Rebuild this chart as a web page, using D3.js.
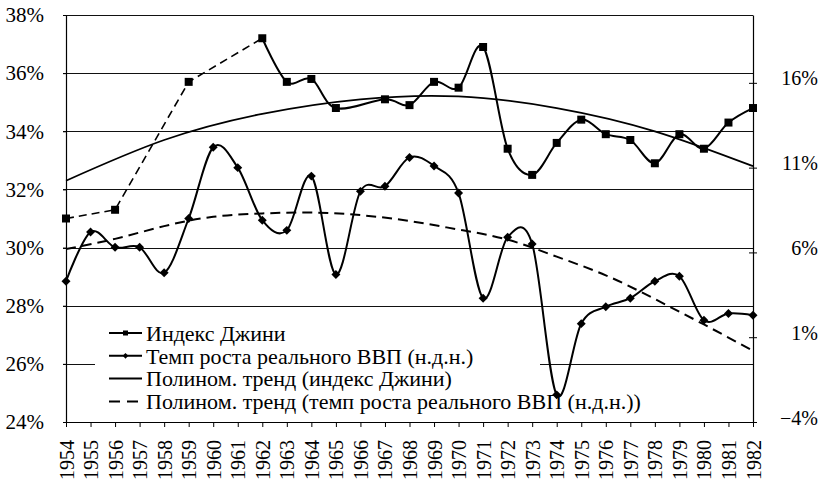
<!DOCTYPE html>
<html>
<head>
<meta charset="utf-8">
<script src="https://cdnjs.cloudflare.com/ajax/libs/d3/7.8.5/d3.min.js"></script>
</head>
<body style="margin:0">
<script>
var years = [1954, 1955, 1956, 1957, 1958, 1959, 1960, 1961, 1962, 1963,
	1964, 1965, 1966, 1967, 1968, 1969, 1970, 1971, 1972, 1973,
	1974, 1975, 1976, 1977, 1978, 1979, 1980, 1981, 1982];

// Gini index, % (left axis); null = no observation
var giniValues = [31.0, null, 31.3, null, null, 35.7, null, null, 37.2, 35.7,
	35.8, 34.8, null, 35.1, 34.9, 35.7, 35.5, 36.9, 33.4, 32.5,
	33.6, 34.4, 33.9, 33.7, 32.9, 33.9, 33.4, 34.3, 34.8];

// real GDP growth, % (right axis)
var gdpValues = [4.3, 7.2, 6.3, 6.3, 4.8, 8.0, 12.2, 11.0, 7.9, 7.3,
	10.5, 4.7, 9.6, 9.9, 11.6, 11.1, 9.5, 3.3, 6.9, 6.5,
	-2.4, 1.8, 2.8, 3.3, 4.3, 4.6, 2.0, 2.4, 2.3];

// polynomial trends
var giniTrendYears = [1954, 1958, 1962, 1966, 1970, 1974, 1978, 1982];
var giniTrendValues = [32.3, 33.7, 34.6, 35.1, 35.2, 34.8, 34.0, 32.8];
var gdpTrendYears = [1954, 1956, 1958, 1960, 1962, 1964, 1966, 1968, 1970, 1972, 1974, 1976, 1978, 1980, 1982];
var gdpTrendValues = [6.2, 6.8, 7.55, 8.1, 8.3, 8.35, 8.2, 7.85, 7.35, 6.75, 5.75, 4.65, 3.25, 1.75, 0.2];

// years before this one are joined by dashed straight lines
var giniSolidFrom = 1962;

var leftTicks = [24, 26, 28, 30, 32, 34, 36, 38];
var rightTicks = [-4, 1, 6, 11, 16];

var legendLabels = [
	"Индекс Джини",
	"Темп роста реального ВВП (н.д.н.)",
	"Полином. тренд (индекс Джини)",
	"Полином. тренд (темп роста реального ВВП (н.д.н.))"
];

var margin = { top: 15, right: 75, bottom: 60, left: 66 },
	width = 828 - margin.left - margin.right,
	height = 482 - margin.top - margin.bottom;

var root = d3.select("body").append("svg")
	.attr("width", 828)
	.attr("height", 482);

var svg = root.append("g")
	.attr("transform", "translate(" + margin.left + "," + margin.top + ")");

var xScale = d3.scalePoint().domain(years).range([0, width]).padding(0);
var yLeft = d3.scaleLinear().domain([24, 38]).range([height, 0]);
var yRight = d3.scaleLinear().domain([-4, 20]).range([height, 0]);

// horizontal grid
svg.append("g")
	.selectAll("line")
	.data(leftTicks.slice(1))
	.enter()
	.append("line")
	.attr("x1", -3)
	.attr("x2", width)
	.attr("y1", function(d) { return Math.round(yLeft(d)) + 0.5; })
	.attr("y2", function(d) { return Math.round(yLeft(d)) + 0.5; })
	.style("stroke", "#111")
	.style("stroke-width", 1);

// legend (white box hides the grid)
var legend = svg.append("g").attr("transform", "translate(29,297)");

legend.append("rect")
	.attr("width", 445)
	.attr("height", 103)
	.style("fill", "#fff");

var legendRows = legend.selectAll(".row")
	.data(legendLabels)
	.enter()
	.append("g")
	.attr("transform", function(d, i) { return "translate(0," + (21 + i * 22.8) + ")"; });

legendRows.append("line")
	.attr("x1", 14)
	.attr("x2", 47)
	.style("stroke", "#000")
	.style("stroke-width", 2)
	.style("stroke-dasharray", function(d, i) { return i === 3 ? "11,7" : null; });

legendRows.filter(function(d, i) { return i === 0; })
	.append("rect")
	.attr("x", 28).attr("y", -2.5).attr("width", 5).attr("height", 5)
	.style("fill", "#000");

legendRows.filter(function(d, i) { return i === 1; })
	.append("rect")
	.attr("x", -2).attr("y", -2).attr("width", 4).attr("height", 4)
	.attr("transform", "translate(30.5,0) rotate(45)")
	.style("fill", "#000");

legendRows.append("text")
	.attr("x", 51)
	.attr("dy", "0.35em")
	.style("font-family", "'Times New Roman'")
	.style("font-size", "22px")
	.text(function(d) { return d; });

// axes
var xAxis = svg.append("g")
	.attr("transform", "translate(0," + height + ")")
	.call(d3.axisBottom(xScale).tickSize(5).tickSizeOuter(0));

xAxis.selectAll("text")
	.attr("transform", "rotate(-90)")
	.attr("x", -18)
	.attr("y", 0)
	.attr("dy", "0.35em")
	.style("text-anchor", "end")
	.style("font-family", "'Times New Roman'")
	.style("font-size", "20px");

svg.append("g")
	.call(d3.axisLeft(yLeft).tickValues(leftTicks).tickSize(3).tickSizeOuter(0).tickPadding(19)
		.tickFormat(function(d) { return d + "%"; }))
	.selectAll("text")
	.style("font-family", "'Times New Roman'")
	.style("font-size", "21px");

var rightAxis = svg.append("g")
	.attr("transform", "translate(" + width + ",0)")
	.call(d3.axisRight(yRight).tickValues(rightTicks).tickSize(4).tickSizeOuter(0)
		.tickFormat(function(d) { return (d < 0 ? "\u2212" + Math.abs(d) : d) + "%"; }));

rightAxis.selectAll(".tick line").attr("x1", -4);
rightAxis.selectAll("text")
	.attr("x", 65)
	.attr("dy", "0.1em")
	.style("text-anchor", "end")
	.style("font-family", "'Times New Roman'")
	.style("font-size", "20px");

svg.selectAll("text").style("fill", "#000");
svg.selectAll(".domain").style("stroke", "#000").style("stroke-width", 1.2);
svg.selectAll(".tick line").style("stroke", "#000");

// trend lines
var giniTrend = giniTrendYears.map(function(y, i) { return { year: y, value: giniTrendValues[i] }; });
var gdpTrend = gdpTrendYears.map(function(y, i) { return { year: y, value: gdpTrendValues[i] }; });

svg.append("path")
	.datum(giniTrend)
	.attr("d", d3.line()
		.x(function(d) { return xScale(d.year); })
		.y(function(d) { return yLeft(d.value); })
		.curve(d3.curveNatural))
	.style("fill", "none")
	.style("stroke", "#000")
	.style("stroke-width", 1.8);

svg.append("path")
	.datum(gdpTrend)
	.attr("d", d3.line()
		.x(function(d) { return xScale(d.year); })
		.y(function(d) { return yRight(d.value); })
		.curve(d3.curveNatural))
	.style("fill", "none")
	.style("stroke", "#000")
	.style("stroke-width", 2)
	.style("stroke-dasharray", "10,6");

// series
var gini = years.map(function(y, i) { return { year: y, value: giniValues[i] }; })
	.filter(function(d) { return d.value !== null; });
var gdp = years.map(function(y, i) { return { year: y, value: gdpValues[i] }; });

var smooth = d3.curveCardinal.tension(0);

svg.append("path")
	.datum(gini.filter(function(d) { return d.year <= giniSolidFrom; }))
	.attr("d", d3.line()
		.x(function(d) { return xScale(d.year); })
		.y(function(d) { return yLeft(d.value); }))
	.style("fill", "none")
	.style("stroke", "#000")
	.style("stroke-width", 1.6)
	.style("stroke-dasharray", "8,5");

svg.append("path")
	.datum(gini.filter(function(d) { return d.year >= giniSolidFrom; }))
	.attr("d", d3.line()
		.x(function(d) { return xScale(d.year); })
		.y(function(d) { return yLeft(d.value); })
		.curve(smooth))
	.style("fill", "none")
	.style("stroke", "#000")
	.style("stroke-width", 2);

svg.append("path")
	.datum(gdp)
	.attr("d", d3.line()
		.x(function(d) { return xScale(d.year); })
		.y(function(d) { return yRight(d.value); })
		.curve(smooth))
	.style("fill", "none")
	.style("stroke", "#000")
	.style("stroke-width", 2);

svg.append("g")
	.selectAll("path")
	.data(gini)
	.enter()
	.append("path")
	.attr("d", d3.symbol().type(d3.symbolSquare).size(64))
	.attr("transform", function(d) { return "translate(" + xScale(d.year) + "," + yLeft(d.value) + ")"; })
	.style("fill", "#000");

svg.append("g")
	.selectAll("path")
	.data(gdp)
	.enter()
	.append("path")
	.attr("d", d3.symbol().type(d3.symbolSquare).size(40))
	.attr("transform", function(d) { return "translate(" + xScale(d.year) + "," + yRight(d.value) + ") rotate(45)"; })
	.style("fill", "#000");
</script>
</body>
</html>
